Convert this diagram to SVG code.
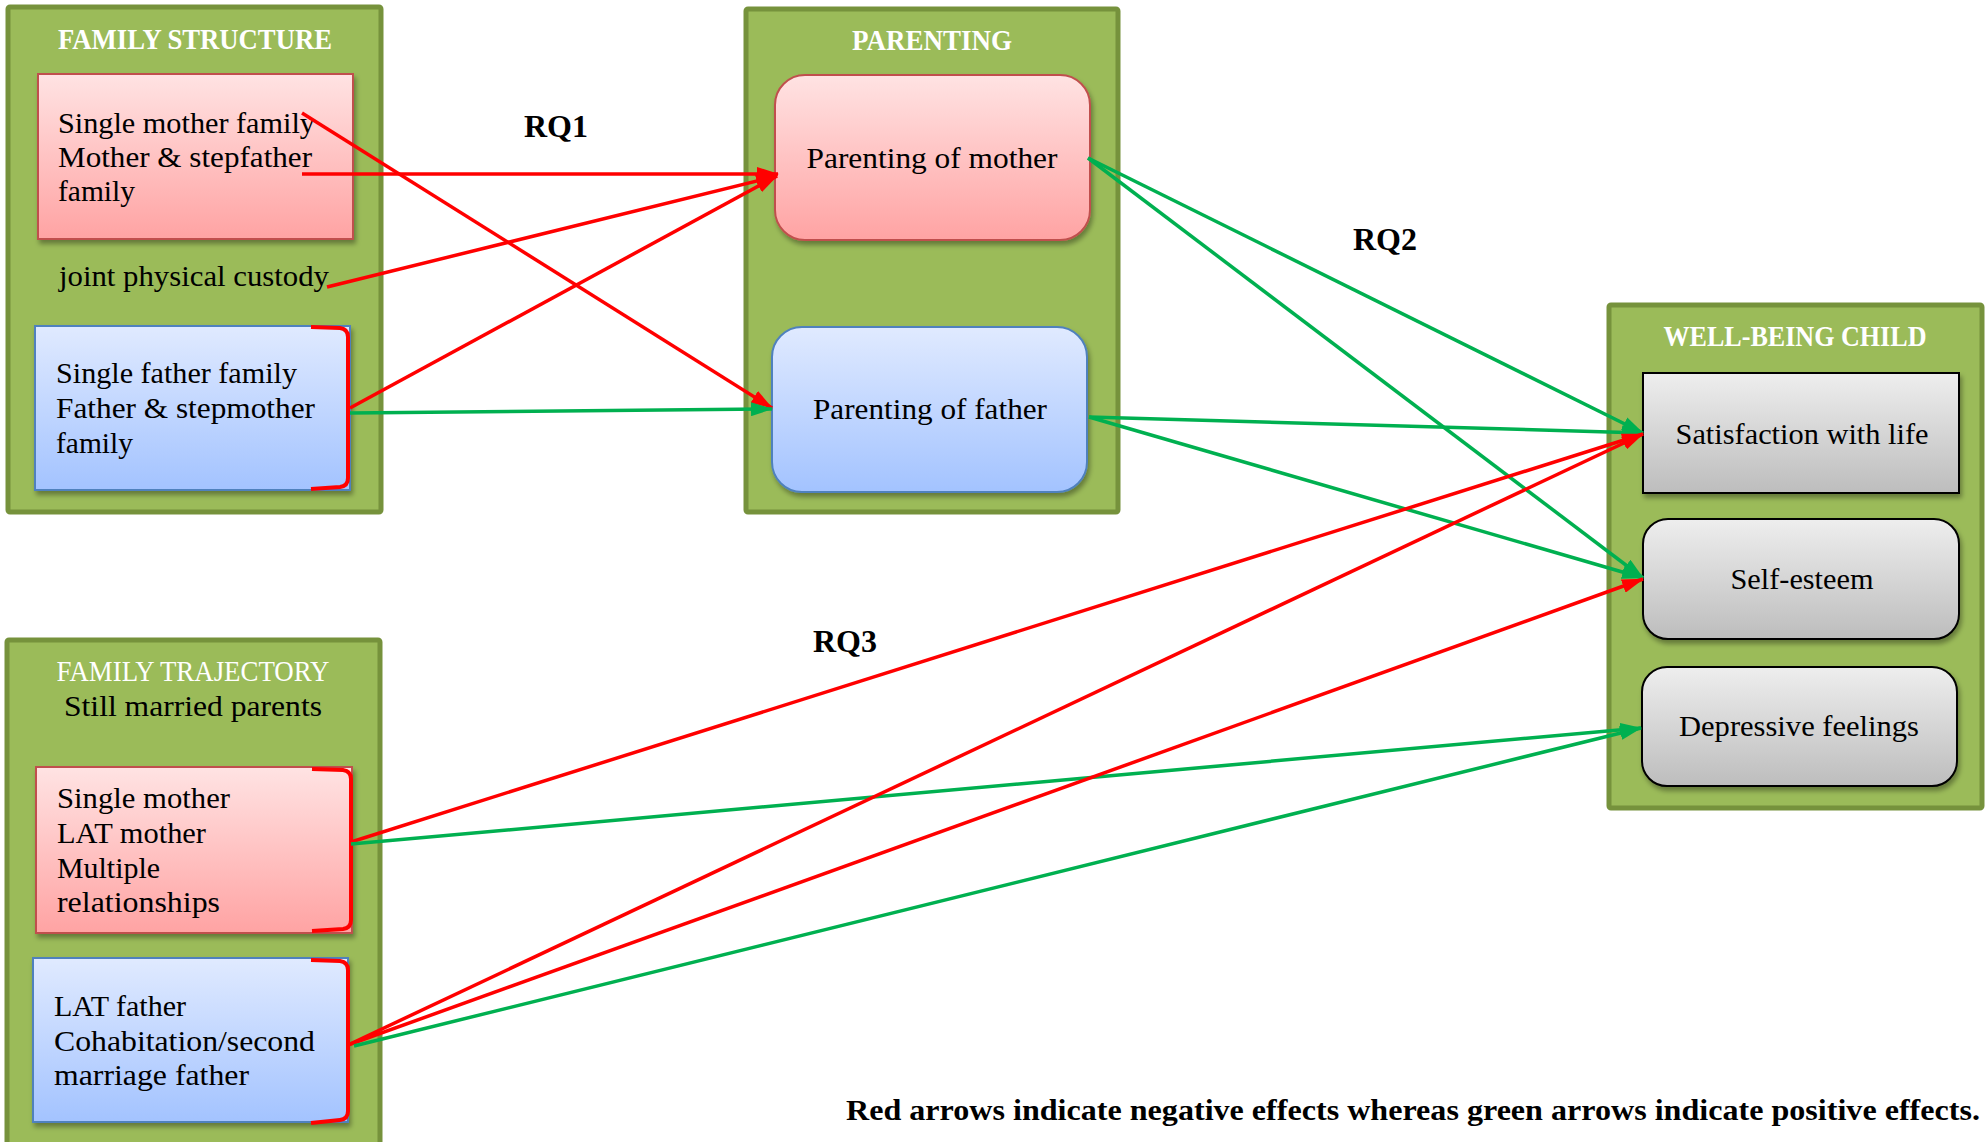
<svg xmlns="http://www.w3.org/2000/svg" width="1986" height="1142" viewBox="0 0 1986 1142">
<defs>
<linearGradient id="gPink" x1="0" y1="0" x2="0" y2="1"><stop offset="0" stop-color="#FFE3E3"/><stop offset="1" stop-color="#FFA3A3"/></linearGradient>
<linearGradient id="gBlue" x1="0" y1="0" x2="0" y2="1"><stop offset="0" stop-color="#E0EAFF"/><stop offset="1" stop-color="#A3C3FF"/></linearGradient>
<linearGradient id="gGray" x1="0" y1="0" x2="0" y2="1"><stop offset="0" stop-color="#EEEEEE"/><stop offset="1" stop-color="#BDBDBD"/></linearGradient>
<filter id="sh" x="-10%" y="-10%" width="125%" height="130%"><feDropShadow dx="2" dy="4" stdDeviation="2.5" flood-color="#000" flood-opacity="0.35"/></filter>
<marker id="aR" markerUnits="userSpaceOnUse" markerWidth="22" markerHeight="14" refX="21" refY="7" orient="auto"><path d="M0,0 L22,7 L0,14 z" fill="#FF0000"/></marker>
<marker id="aG" markerUnits="userSpaceOnUse" markerWidth="22" markerHeight="14" refX="21" refY="7" orient="auto"><path d="M0,0 L22,7 L0,14 z" fill="#00B050"/></marker>
</defs>
<style>
.cont{fill:#9BBB59;stroke:#76923C;stroke-width:5}
.pink{fill:url(#gPink);stroke:#C0504D;stroke-width:2;filter:url(#sh)}
.blue{fill:url(#gBlue);stroke:#4F81BD;stroke-width:2;filter:url(#sh)}
.gray{fill:url(#gGray);stroke:#000;stroke-width:2;filter:url(#sh)}
.t{font-family:"Liberation Serif","Times New Roman",serif;font-size:30px;fill:#000}
.ttl{font-family:"Liberation Serif","Times New Roman",serif;font-size:30px;fill:#fff;font-weight:bold}
.ttlr{font-family:"Liberation Serif","Times New Roman",serif;font-size:30px;fill:#fff}
.rq{font-family:"Liberation Serif","Times New Roman",serif;font-size:32px;font-weight:bold;fill:#000}
.br{fill:none;stroke:#FF0000;stroke-width:4}
.r{stroke:#FF0000;stroke-width:3.5;fill:none;marker-end:url(#aR)}
.g{stroke:#00B050;stroke-width:3.5;fill:none;marker-end:url(#aG)}
</style>
<rect width="1986" height="1142" fill="#fff"/>

<g id="family-structure">
<rect class="cont" x="8" y="7" width="373" height="505" rx="2"/>
<text class="ttl" x="195" y="49" text-anchor="middle" textLength="274" lengthAdjust="spacingAndGlyphs">FAMILY STRUCTURE</text>
</g>
<g id="fs-mother">
<rect class="pink" x="38" y="74" width="315" height="165"/>
<text class="t" x="58" y="133" textLength="257" lengthAdjust="spacingAndGlyphs">Single mother family</text>
<text class="t" x="58" y="167" textLength="254" lengthAdjust="spacingAndGlyphs">Mother &amp; stepfather</text>
<text class="t" x="58" y="201" textLength="77" lengthAdjust="spacingAndGlyphs">family</text>
</g>
<g id="fs-joint">
<text class="t" x="59" y="286" textLength="270" lengthAdjust="spacingAndGlyphs">joint physical custody</text>
</g>
<g id="fs-father">
<rect class="blue" x="35" y="326" width="315" height="164"/>
<text class="t" x="56" y="383" textLength="241" lengthAdjust="spacingAndGlyphs">Single father family</text>
<text class="t" x="56" y="418" textLength="259" lengthAdjust="spacingAndGlyphs">Father &amp; stepmother</text>
<text class="t" x="56" y="453" textLength="77" lengthAdjust="spacingAndGlyphs">family</text>
<path class="br" d="M311,327 L340,328 Q348,329 348,337 L348,478 Q348,486 340,487 L311,489"/>
</g>

<g id="parenting">
<rect class="cont" x="746" y="9" width="372" height="503" rx="2"/>
<text class="ttl" x="932" y="50" text-anchor="middle" textLength="160" lengthAdjust="spacingAndGlyphs">PARENTING</text>
</g>
<g id="p-mother">
<rect class="pink" x="775" y="75" width="315" height="165" rx="30"/>
<text class="t" x="932" y="168" text-anchor="middle" textLength="251" lengthAdjust="spacingAndGlyphs">Parenting of mother</text>
</g>
<g id="p-father">
<rect class="blue" x="772" y="327" width="315" height="165" rx="30"/>
<text class="t" x="930" y="419" text-anchor="middle" textLength="234" lengthAdjust="spacingAndGlyphs">Parenting of father</text>
</g>

<g id="well-being">
<rect class="cont" x="1609" y="305" width="373" height="503" rx="2"/>
<text class="ttl" x="1795" y="346" text-anchor="middle" textLength="263" lengthAdjust="spacingAndGlyphs">WELL-BEING CHILD</text>
</g>
<g id="wb-satisfaction">
<rect class="gray" x="1643" y="373" width="316" height="120"/>
<text class="t" x="1802" y="444" text-anchor="middle" textLength="253" lengthAdjust="spacingAndGlyphs">Satisfaction with life</text>
</g>
<g id="wb-selfesteem">
<rect class="gray" x="1643" y="519" width="316" height="120" rx="25"/>
<text class="t" x="1802" y="589" text-anchor="middle" textLength="143" lengthAdjust="spacingAndGlyphs">Self-esteem</text>
</g>
<g id="wb-depressive">
<rect class="gray" x="1642" y="667" width="315" height="119" rx="25"/>
<text class="t" x="1799" y="736" text-anchor="middle" textLength="240" lengthAdjust="spacingAndGlyphs">Depressive feelings</text>
</g>

<g id="family-trajectory">
<rect class="cont" x="7" y="640" width="373" height="515" rx="2"/>
<text class="ttlr" x="193" y="681" text-anchor="middle" textLength="273" lengthAdjust="spacingAndGlyphs">FAMILY TRAJECTORY</text>
<text class="t" x="193" y="716" text-anchor="middle" textLength="258" lengthAdjust="spacingAndGlyphs">Still married parents</text>
</g>
<g id="ft-mother">
<rect class="pink" x="36" y="767" width="316" height="166"/>
<text class="t" x="57" y="808" textLength="173" lengthAdjust="spacingAndGlyphs">Single mother</text>
<text class="t" x="57" y="843" textLength="149" lengthAdjust="spacingAndGlyphs">LAT mother</text>
<text class="t" x="57" y="878" textLength="103" lengthAdjust="spacingAndGlyphs">Multiple</text>
<text class="t" x="57" y="912" textLength="163" lengthAdjust="spacingAndGlyphs">relationships</text>
<path class="br" d="M312,769 L343,770 Q351,771 351,779 L351,920 Q351,928 343,929 L312,931"/>
</g>
<g id="ft-father">
<rect class="blue" x="33" y="958" width="315" height="164"/>
<text class="t" x="54" y="1016" textLength="132" lengthAdjust="spacingAndGlyphs">LAT father</text>
<text class="t" x="54" y="1051" textLength="261" lengthAdjust="spacingAndGlyphs">Cohabitation/second</text>
<text class="t" x="54" y="1085" textLength="195" lengthAdjust="spacingAndGlyphs">marriage father</text>
<path class="br" d="M311,960 L340,961 Q348,962 348,970 L348,1111 Q348,1119 340,1120 L311,1123"/>
</g>

<g id="connectors">
<line class="r" x1="302" y1="113" x2="772" y2="408"/>
<line class="r" x1="302" y1="174" x2="778" y2="174"/>
<line class="r" x1="327" y1="287" x2="777" y2="176"/>
<line class="r" x1="350" y1="408" x2="777" y2="176"/>
<line class="g" x1="350" y1="413" x2="772" y2="409"/>
<line class="g" x1="1088" y1="158" x2="1643" y2="433"/>
<line class="g" x1="1088" y1="158" x2="1643" y2="578"/>
<line class="g" x1="1089" y1="417" x2="1643" y2="433"/>
<line class="g" x1="1089" y1="417" x2="1643" y2="578"/>
<line class="r" x1="351" y1="842" x2="1643" y2="434"/>
<line class="g" x1="351" y1="844" x2="1641" y2="728"/>
<line class="r" x1="348" y1="1045" x2="1643" y2="434"/>
<line class="r" x1="348" y1="1045" x2="1643" y2="579"/>
<line class="g" x1="354" y1="1046" x2="1641" y2="728"/>
</g>

<g id="labels">
<text class="rq" x="556" y="137" text-anchor="middle">RQ1</text>
<text class="rq" x="1385" y="250" text-anchor="middle">RQ2</text>
<text class="rq" x="845" y="652" text-anchor="middle">RQ3</text>
<text class="rq" x="846" y="1120" style="font-size:30px" textLength="1134" lengthAdjust="spacingAndGlyphs">Red arrows indicate negative effects whereas green arrows indicate positive effects.</text>
</g>
</svg>
